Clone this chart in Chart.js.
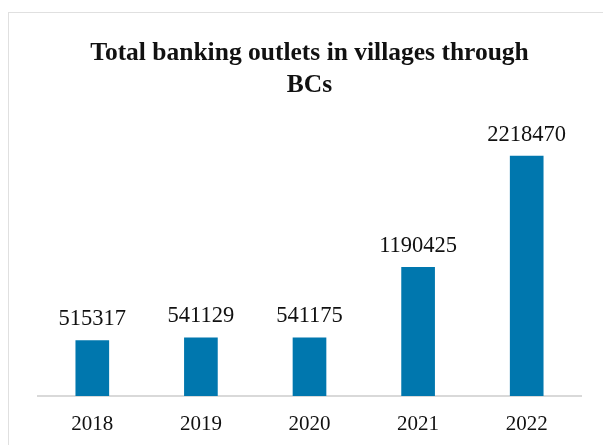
<!DOCTYPE html>
<html>
<head>
<meta charset="utf-8">
<script src="https://cdn.jsdelivr.net/npm/chart.js@4"></script>
<style>
  html, body { margin: 0; padding: 0; background: #fff; overflow: hidden; }
  #frame { position: absolute; left: 8px; top: 12px; width: 620px; height: 460px; border: 1px solid #e0e0e0; }
  #wrap { position: absolute; left: 0; top: 0; width: 603px; height: 453px; }
</style>
</head>
<body>
<div id="frame"></div>
<div id="wrap"><canvas id="myChart"></canvas></div>
<script>
var years = ["2018", "2019", "2020", "2021", "2022"];
var outlets = [515317, 541129, 541175, 1190425, 2218470];

// Draw the value above each bar.
var valueLabels = {
  id: 'valueLabels',
  afterDatasetsDraw: function(chart) {
    var ctx = chart.ctx;
    var meta = chart.getDatasetMeta(0);
    ctx.save();
    ctx.font = '22.5px "Liberation Serif"';
    ctx.fillStyle = '#111';
    ctx.textAlign = 'center';
    ctx.textBaseline = 'alphabetic';
    meta.data.forEach(function(bar, i) {
      ctx.fillText(String(outlets[i]), bar.x, bar.y - 15);
    });
    ctx.restore();
  }
};

var ctx = document.getElementById("myChart");
var myChart = new Chart(ctx, {
  type: 'bar',
  data: {
    labels: years,
    datasets: [{
      data: outlets,
      backgroundColor: '#0077AE',
      categoryPercentage: 1,
      barPercentage: 0.31
    }]
  },
  options: {
    responsive: true,
    maintainAspectRatio: false,
    animation: false,
    layout: { padding: { left: 38, right: 22, top: 37, bottom: 0 } },
    plugins: {
      legend: { display: false },
      tooltip: { enabled: false },
      title: {
        display: true,
        text: ['Total banking outlets in villages through', 'BCs'],
        color: '#111',
        font: { family: '"Liberation Serif"', size: 25.5, weight: 'bold', lineHeight: 1.26 },
        padding: { top: 0, bottom: 11 }
      }
    },
    scales: {
      x: {
        grid: { display: false, drawTicks: false },
        border: { display: true, color: '#d9d9d9', width: 2 },
        ticks: {
          color: '#111',
          padding: 18,
          font: { family: '"Liberation Serif"', size: 21, lineHeight: 1.0 }
        }
      },
      y: {
        display: false,
        min: 0,
        max: 2620000
      }
    }
  },
  plugins: [valueLabels]
});
</script>
</body>
</html>
